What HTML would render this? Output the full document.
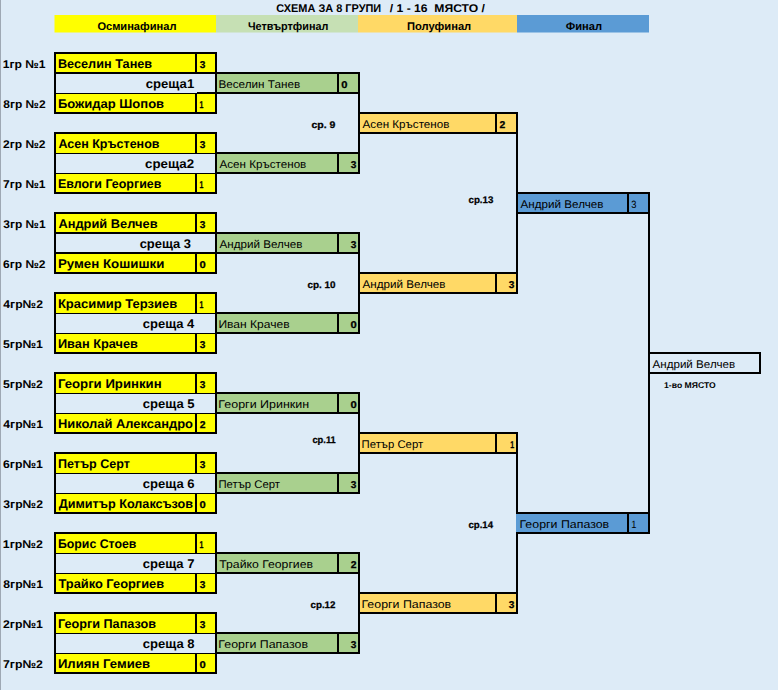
<!DOCTYPE html>
<html><head><meta charset="utf-8"><style>
html,body{margin:0;padding:0;background:#DDEBF7;width:778px;height:690px;overflow:hidden}
svg{display:block}
text{font-family:"Liberation Sans",sans-serif;fill:#000;text-rendering:geometricPrecision}
</style></head><body>
<svg width="778" height="690" viewBox="0 0 778 690">
<defs><clipPath id="clipB"><rect x="56" y="0" width="139" height="690"/></clipPath></defs>
<rect x="0" y="0" width="778" height="690" fill="#DDEBF7"/>
<rect x="0" y="0" width="1" height="690" fill="#9EA8B4"/>
<rect x="54.5" y="15" width="161.5" height="17.5" fill="#FFFF00"/>
<rect x="216" y="15" width="142" height="17.5" fill="#C6E0B4"/>
<rect x="358" y="15" width="159" height="17.5" fill="#FFD966"/>
<rect x="517" y="15" width="132" height="17.5" fill="#5B9BD5"/>
<rect x="54" y="52" width="163" height="62" fill="#000000"/>
<rect x="56" y="54" width="139" height="18" fill="#FFFF00"/>
<rect x="197" y="54" width="18" height="18" fill="#FFFF00"/>
<rect x="56" y="74" width="159" height="19" fill="#DDEBF7"/>
<rect x="197" y="74" width="18" height="18" fill="#DDEBF7"/>
<rect x="197" y="92" width="18" height="1" fill="#000000"/>
<rect x="56" y="94" width="139" height="18" fill="#FFFF00"/>
<rect x="197" y="94" width="18" height="18" fill="#FFFF00"/>
<rect x="215" y="72" width="145" height="22" fill="#000000"/>
<rect x="217" y="74" width="120" height="18" fill="#A9D08E"/>
<rect x="339" y="74" width="19" height="18" fill="#A9D08E"/>
<rect x="54" y="132" width="163" height="62" fill="#000000"/>
<rect x="56" y="134" width="139" height="19" fill="#FFFF00"/>
<rect x="197" y="134" width="18" height="19" fill="#FFFF00"/>
<rect x="56" y="154" width="159" height="19" fill="#DDEBF7"/>
<rect x="197" y="154" width="18" height="18" fill="#DDEBF7"/>
<rect x="56" y="174" width="139" height="18" fill="#FFFF00"/>
<rect x="197" y="174" width="18" height="18" fill="#FFFF00"/>
<rect x="215" y="152" width="145" height="22" fill="#000000"/>
<rect x="217" y="154" width="120" height="18" fill="#A9D08E"/>
<rect x="339" y="154" width="19" height="18" fill="#A9D08E"/>
<rect x="54" y="212" width="163" height="62" fill="#000000"/>
<rect x="56" y="214" width="139" height="18" fill="#FFFF00"/>
<rect x="197" y="214" width="18" height="18" fill="#FFFF00"/>
<rect x="56" y="234" width="159" height="18" fill="#DDEBF7"/>
<rect x="197" y="234" width="18" height="18" fill="#DDEBF7"/>
<rect x="56" y="254" width="139" height="18" fill="#FFFF00"/>
<rect x="197" y="254" width="18" height="18" fill="#FFFF00"/>
<rect x="215" y="232" width="145" height="22" fill="#000000"/>
<rect x="217" y="234" width="120" height="18" fill="#A9D08E"/>
<rect x="339" y="234" width="19" height="18" fill="#A9D08E"/>
<rect x="54" y="292" width="163" height="62" fill="#000000"/>
<rect x="56" y="294" width="139" height="19" fill="#FFFF00"/>
<rect x="197" y="294" width="18" height="19" fill="#FFFF00"/>
<rect x="56" y="314" width="159" height="19" fill="#DDEBF7"/>
<rect x="197" y="314" width="18" height="18" fill="#DDEBF7"/>
<rect x="56" y="334" width="139" height="18" fill="#FFFF00"/>
<rect x="197" y="334" width="18" height="18" fill="#FFFF00"/>
<rect x="215" y="312" width="145" height="22" fill="#000000"/>
<rect x="217" y="314" width="120" height="18" fill="#A9D08E"/>
<rect x="339" y="314" width="19" height="18" fill="#A9D08E"/>
<rect x="54" y="372" width="163" height="62" fill="#000000"/>
<rect x="56" y="374" width="139" height="19" fill="#FFFF00"/>
<rect x="197" y="374" width="18" height="19" fill="#FFFF00"/>
<rect x="56" y="394" width="159" height="19" fill="#DDEBF7"/>
<rect x="197" y="394" width="18" height="18" fill="#DDEBF7"/>
<rect x="56" y="414" width="139" height="18" fill="#FFFF00"/>
<rect x="197" y="414" width="18" height="18" fill="#FFFF00"/>
<rect x="215" y="392" width="145" height="22" fill="#000000"/>
<rect x="217" y="394" width="120" height="18" fill="#A9D08E"/>
<rect x="339" y="394" width="19" height="18" fill="#A9D08E"/>
<rect x="54" y="452" width="163" height="62" fill="#000000"/>
<rect x="56" y="454" width="139" height="19" fill="#FFFF00"/>
<rect x="197" y="454" width="18" height="19" fill="#FFFF00"/>
<rect x="56" y="474" width="159" height="19" fill="#DDEBF7"/>
<rect x="197" y="474" width="18" height="18" fill="#DDEBF7"/>
<rect x="56" y="494" width="139" height="18" fill="#FFFF00"/>
<rect x="197" y="494" width="18" height="18" fill="#FFFF00"/>
<rect x="215" y="472" width="145" height="22" fill="#000000"/>
<rect x="217" y="474" width="120" height="18" fill="#A9D08E"/>
<rect x="339" y="474" width="19" height="18" fill="#A9D08E"/>
<rect x="54" y="532" width="163" height="62" fill="#000000"/>
<rect x="56" y="534" width="139" height="19" fill="#FFFF00"/>
<rect x="197" y="534" width="18" height="19" fill="#FFFF00"/>
<rect x="56" y="554" width="159" height="19" fill="#DDEBF7"/>
<rect x="197" y="554" width="18" height="18" fill="#DDEBF7"/>
<rect x="56" y="574" width="139" height="18" fill="#FFFF00"/>
<rect x="197" y="574" width="18" height="18" fill="#FFFF00"/>
<rect x="215" y="552" width="145" height="22" fill="#000000"/>
<rect x="217" y="554" width="120" height="18" fill="#A9D08E"/>
<rect x="339" y="554" width="19" height="18" fill="#A9D08E"/>
<rect x="54" y="612" width="163" height="62" fill="#000000"/>
<rect x="56" y="614" width="139" height="19" fill="#FFFF00"/>
<rect x="197" y="614" width="18" height="19" fill="#FFFF00"/>
<rect x="56" y="634" width="159" height="19" fill="#DDEBF7"/>
<rect x="197" y="634" width="18" height="18" fill="#DDEBF7"/>
<rect x="56" y="654" width="139" height="18" fill="#FFFF00"/>
<rect x="197" y="654" width="18" height="18" fill="#FFFF00"/>
<rect x="215" y="632" width="145" height="22" fill="#000000"/>
<rect x="217" y="634" width="120" height="18" fill="#A9D08E"/>
<rect x="339" y="634" width="19" height="18" fill="#A9D08E"/>
<rect x="358" y="72" width="2" height="102" fill="#000000"/>
<rect x="358" y="112" width="160" height="22" fill="#000000"/>
<rect x="360" y="114" width="135" height="18" fill="#FFD966"/>
<rect x="497" y="114" width="19" height="18" fill="#FFD966"/>
<rect x="358" y="232" width="2" height="102" fill="#000000"/>
<rect x="358" y="272" width="160" height="22" fill="#000000"/>
<rect x="360" y="274" width="135" height="18" fill="#FFD966"/>
<rect x="497" y="274" width="19" height="18" fill="#FFD966"/>
<rect x="358" y="392" width="2" height="102" fill="#000000"/>
<rect x="358" y="432" width="160" height="22" fill="#000000"/>
<rect x="360" y="434" width="135" height="18" fill="#FFD966"/>
<rect x="497" y="434" width="19" height="18" fill="#FFD966"/>
<rect x="358" y="552" width="2" height="102" fill="#000000"/>
<rect x="358" y="592" width="160" height="22" fill="#000000"/>
<rect x="360" y="594" width="135" height="18" fill="#FFD966"/>
<rect x="497" y="594" width="19" height="18" fill="#FFD966"/>
<rect x="516" y="112" width="2" height="182" fill="#000000"/>
<rect x="516" y="192" width="134" height="22" fill="#000000"/>
<rect x="518" y="194" width="109" height="18" fill="#5B9BD5"/>
<rect x="629" y="194" width="19" height="18" fill="#5B9BD5"/>
<rect x="516" y="432" width="2" height="182" fill="#000000"/>
<rect x="516" y="512" width="134" height="22" fill="#000000"/>
<rect x="516" y="514" width="111" height="18" fill="#5B9BD5"/>
<rect x="629" y="514" width="19" height="18" fill="#5B9BD5"/>
<rect x="648" y="192" width="2" height="342" fill="#000000"/>
<rect x="648" y="352" width="113" height="22" fill="#000000"/>
<rect x="650" y="354" width="109" height="18" fill="#DDEBF7"/>
<text x="276.31" y="12" font-size="11.17" font-weight="bold" textLength="104.94" lengthAdjust="spacingAndGlyphs">СХЕМА ЗА 8 ГРУПИ</text>
<text x="389.83" y="12" font-size="11.17" font-weight="bold" textLength="95.08" lengthAdjust="spacingAndGlyphs">/ 1 - 16  МЯСТО /</text>
<text x="97.40" y="30" font-size="11.17" font-weight="bold" textLength="79.03" lengthAdjust="spacingAndGlyphs">Осминафинал</text>
<text x="248.02" y="30" font-size="11.17" font-weight="bold" textLength="80.32" lengthAdjust="spacingAndGlyphs">Четвъртфинал</text>
<text x="406.95" y="30" font-size="11.17" font-weight="bold" textLength="64.25" lengthAdjust="spacingAndGlyphs">Полуфинал</text>
<text x="565.70" y="30" font-size="11.17" font-weight="bold" textLength="36.37" lengthAdjust="spacingAndGlyphs">Финал</text>
<text x="2.79" y="68" font-size="11.17" font-weight="bold" textLength="42.77" lengthAdjust="spacingAndGlyphs">1гр №1</text>
<text x="3.33" y="108" font-size="11.17" font-weight="bold" textLength="42.22" lengthAdjust="spacingAndGlyphs">8гр №2</text>
<text x="57.94" y="68" font-size="12.57" font-weight="bold" textLength="94.21" lengthAdjust="spacingAndGlyphs" clip-path="url(#clipB)">Веселин Танев</text>
<text x="57.92" y="108" font-size="12.57" font-weight="bold" textLength="106.17" lengthAdjust="spacingAndGlyphs" clip-path="url(#clipB)">Божидар Шопов</text>
<text x="199.75" y="68" font-size="9.9" font-weight="bold" stroke="#000" stroke-width="0.25" textLength="5.61" lengthAdjust="spacingAndGlyphs">3</text>
<text x="199.47" y="108" font-size="9.9" font-weight="bold" stroke="#000" stroke-width="0.25" textLength="3.91" lengthAdjust="spacingAndGlyphs">1</text>
<text x="145.78" y="88" font-size="12.57" font-weight="bold" textLength="48.41" lengthAdjust="spacingAndGlyphs">среща1</text>
<text x="218.45" y="88" font-size="11.17" textLength="81.74" lengthAdjust="spacingAndGlyphs">Веселин Танев</text>
<text x="341.33" y="88" font-size="9.9" font-weight="bold" stroke="#000" stroke-width="0.25" textLength="6.23" lengthAdjust="spacingAndGlyphs">0</text>
<text x="3.06" y="148" font-size="11.17" font-weight="bold" textLength="42.49" lengthAdjust="spacingAndGlyphs">2гр №2</text>
<text x="3.06" y="188" font-size="11.17" font-weight="bold" textLength="42.49" lengthAdjust="spacingAndGlyphs">7гр №1</text>
<text x="58.45" y="148" font-size="12.57" font-weight="bold" textLength="101.02" lengthAdjust="spacingAndGlyphs" clip-path="url(#clipB)">Асен Кръстенов</text>
<text x="57.96" y="188" font-size="12.57" font-weight="bold" textLength="103.45" lengthAdjust="spacingAndGlyphs" clip-path="url(#clipB)">Евлоги Георгиев</text>
<text x="199.75" y="148" font-size="9.9" font-weight="bold" stroke="#000" stroke-width="0.25" textLength="5.61" lengthAdjust="spacingAndGlyphs">3</text>
<text x="199.47" y="188" font-size="9.9" font-weight="bold" stroke="#000" stroke-width="0.25" textLength="3.91" lengthAdjust="spacingAndGlyphs">1</text>
<text x="145.07" y="168" font-size="12.57" font-weight="bold" textLength="48.99" lengthAdjust="spacingAndGlyphs">среща2</text>
<text x="219.50" y="168" font-size="11.17" textLength="86.81" lengthAdjust="spacingAndGlyphs">Асен Кръстенов</text>
<text x="350.75" y="168" font-size="9.9" font-weight="bold" stroke="#000" stroke-width="0.25" textLength="5.61" lengthAdjust="spacingAndGlyphs">3</text>
<text x="3.33" y="228" font-size="11.17" font-weight="bold" textLength="42.22" lengthAdjust="spacingAndGlyphs">3гр №1</text>
<text x="3.06" y="268" font-size="11.17" font-weight="bold" textLength="42.49" lengthAdjust="spacingAndGlyphs">6гр №2</text>
<text x="58.44" y="228" font-size="12.57" font-weight="bold" textLength="99.15" lengthAdjust="spacingAndGlyphs" clip-path="url(#clipB)">Андрий Велчев</text>
<text x="57.91" y="268" font-size="12.57" font-weight="bold" textLength="106.47" lengthAdjust="spacingAndGlyphs" clip-path="url(#clipB)">Румен Кошишки</text>
<text x="199.75" y="228" font-size="9.9" font-weight="bold" stroke="#000" stroke-width="0.25" textLength="5.61" lengthAdjust="spacingAndGlyphs">3</text>
<text x="199.43" y="268" font-size="9.9" font-weight="bold" stroke="#000" stroke-width="0.25" textLength="6.23" lengthAdjust="spacingAndGlyphs">0</text>
<text x="139.68" y="248" font-size="12.57" font-weight="bold" textLength="51.40" lengthAdjust="spacingAndGlyphs">среща 3</text>
<text x="219.50" y="248" font-size="11.17" textLength="82.89" lengthAdjust="spacingAndGlyphs">Андрий Велчев</text>
<text x="350.75" y="248" font-size="9.9" font-weight="bold" stroke="#000" stroke-width="0.25" textLength="5.61" lengthAdjust="spacingAndGlyphs">3</text>
<text x="3.33" y="308" font-size="11.17" font-weight="bold" textLength="39.61" lengthAdjust="spacingAndGlyphs">4гр№2</text>
<text x="3.05" y="348" font-size="11.17" font-weight="bold" textLength="39.89" lengthAdjust="spacingAndGlyphs">5гр№1</text>
<text x="57.92" y="308" font-size="12.57" font-weight="bold" textLength="119.33" lengthAdjust="spacingAndGlyphs" clip-path="url(#clipB)">Красимир Терзиев</text>
<text x="57.94" y="348" font-size="12.57" font-weight="bold" textLength="79.89" lengthAdjust="spacingAndGlyphs" clip-path="url(#clipB)">Иван Крачев</text>
<text x="199.47" y="308" font-size="9.9" font-weight="bold" stroke="#000" stroke-width="0.25" textLength="3.91" lengthAdjust="spacingAndGlyphs">1</text>
<text x="199.75" y="348" font-size="9.9" font-weight="bold" stroke="#000" stroke-width="0.25" textLength="5.61" lengthAdjust="spacingAndGlyphs">3</text>
<text x="142.78" y="328" font-size="12.57" font-weight="bold" textLength="51.55" lengthAdjust="spacingAndGlyphs">среща 4</text>
<text x="218.42" y="328" font-size="11.17" textLength="71.22" lengthAdjust="spacingAndGlyphs">Иван Крачев</text>
<text x="350.43" y="328" font-size="9.9" font-weight="bold" stroke="#000" stroke-width="0.25" textLength="6.23" lengthAdjust="spacingAndGlyphs">0</text>
<text x="3.05" y="388" font-size="11.17" font-weight="bold" textLength="39.89" lengthAdjust="spacingAndGlyphs">5гр№2</text>
<text x="3.33" y="428" font-size="11.17" font-weight="bold" textLength="39.61" lengthAdjust="spacingAndGlyphs">4гр№1</text>
<text x="57.91" y="388" font-size="12.57" font-weight="bold" textLength="103.70" lengthAdjust="spacingAndGlyphs" clip-path="url(#clipB)">Георги Иринкин</text>
<text x="57.93" y="428" font-size="12.57" font-weight="bold" textLength="135.08" lengthAdjust="spacingAndGlyphs" clip-path="url(#clipB)">Николай Александро</text>
<text x="199.75" y="388" font-size="9.9" font-weight="bold" stroke="#000" stroke-width="0.25" textLength="5.61" lengthAdjust="spacingAndGlyphs">3</text>
<text x="199.74" y="428" font-size="9.9" font-weight="bold" stroke="#000" stroke-width="0.25" textLength="5.79" lengthAdjust="spacingAndGlyphs">2</text>
<text x="142.78" y="408" font-size="12.57" font-weight="bold" textLength="51.81" lengthAdjust="spacingAndGlyphs">среща 5</text>
<text x="218.38" y="408" font-size="11.17" textLength="90.80" lengthAdjust="spacingAndGlyphs">Георги Иринкин</text>
<text x="350.43" y="408" font-size="9.9" font-weight="bold" stroke="#000" stroke-width="0.25" textLength="6.23" lengthAdjust="spacingAndGlyphs">0</text>
<text x="3.05" y="468" font-size="11.17" font-weight="bold" textLength="39.89" lengthAdjust="spacingAndGlyphs">6гр№1</text>
<text x="3.33" y="508" font-size="11.17" font-weight="bold" textLength="39.61" lengthAdjust="spacingAndGlyphs">3гр№2</text>
<text x="57.95" y="468" font-size="12.57" font-weight="bold" textLength="71.84" lengthAdjust="spacingAndGlyphs" clip-path="url(#clipB)">Петър Серт</text>
<text x="58.70" y="508" font-size="12.57" font-weight="bold" textLength="134.40" lengthAdjust="spacingAndGlyphs" clip-path="url(#clipB)">Димитър Колаксъзов</text>
<text x="199.75" y="468" font-size="9.9" font-weight="bold" stroke="#000" stroke-width="0.25" textLength="5.61" lengthAdjust="spacingAndGlyphs">3</text>
<text x="199.43" y="508" font-size="9.9" font-weight="bold" stroke="#000" stroke-width="0.25" textLength="6.23" lengthAdjust="spacingAndGlyphs">0</text>
<text x="142.78" y="488" font-size="12.57" font-weight="bold" textLength="51.81" lengthAdjust="spacingAndGlyphs">среща 6</text>
<text x="218.48" y="488" font-size="11.17" textLength="61.60" lengthAdjust="spacingAndGlyphs">Петър Серт</text>
<text x="350.75" y="488" font-size="9.9" font-weight="bold" stroke="#000" stroke-width="0.25" textLength="5.61" lengthAdjust="spacingAndGlyphs">3</text>
<text x="2.77" y="548" font-size="11.17" font-weight="bold" textLength="40.18" lengthAdjust="spacingAndGlyphs">1гр№2</text>
<text x="3.33" y="588" font-size="11.17" font-weight="bold" textLength="39.61" lengthAdjust="spacingAndGlyphs">8гр№1</text>
<text x="57.96" y="548" font-size="12.57" font-weight="bold" textLength="78.46" lengthAdjust="spacingAndGlyphs" clip-path="url(#clipB)">Борис Стоев</text>
<text x="58.44" y="588" font-size="12.57" font-weight="bold" textLength="105.68" lengthAdjust="spacingAndGlyphs" clip-path="url(#clipB)">Трайко Георгиев</text>
<text x="199.47" y="548" font-size="9.9" font-weight="bold" stroke="#000" stroke-width="0.25" textLength="3.91" lengthAdjust="spacingAndGlyphs">1</text>
<text x="199.75" y="588" font-size="9.9" font-weight="bold" stroke="#000" stroke-width="0.25" textLength="5.61" lengthAdjust="spacingAndGlyphs">3</text>
<text x="142.78" y="568" font-size="12.57" font-weight="bold" textLength="51.67" lengthAdjust="spacingAndGlyphs">среща 7</text>
<text x="219.23" y="568" font-size="11.17" textLength="93.81" lengthAdjust="spacingAndGlyphs">Трайко Георгиев</text>
<text x="350.84" y="568" font-size="9.9" font-weight="bold" stroke="#000" stroke-width="0.25" textLength="5.79" lengthAdjust="spacingAndGlyphs">2</text>
<text x="3.05" y="628" font-size="11.17" font-weight="bold" textLength="39.89" lengthAdjust="spacingAndGlyphs">2гр№1</text>
<text x="3.05" y="668" font-size="11.17" font-weight="bold" textLength="39.89" lengthAdjust="spacingAndGlyphs">7гр№2</text>
<text x="57.94" y="628" font-size="12.57" font-weight="bold" textLength="98.05" lengthAdjust="spacingAndGlyphs" clip-path="url(#clipB)">Георги Папазов</text>
<text x="57.92" y="668" font-size="12.57" font-weight="bold" textLength="92.23" lengthAdjust="spacingAndGlyphs" clip-path="url(#clipB)">Илиян Гемиев</text>
<text x="199.75" y="628" font-size="9.9" font-weight="bold" stroke="#000" stroke-width="0.25" textLength="5.61" lengthAdjust="spacingAndGlyphs">3</text>
<text x="199.43" y="668" font-size="9.9" font-weight="bold" stroke="#000" stroke-width="0.25" textLength="6.23" lengthAdjust="spacingAndGlyphs">0</text>
<text x="142.78" y="648" font-size="12.57" font-weight="bold" textLength="51.81" lengthAdjust="spacingAndGlyphs">среща 8</text>
<text x="218.39" y="648" font-size="11.17" textLength="89.70" lengthAdjust="spacingAndGlyphs">Георги Папазов</text>
<text x="350.75" y="648" font-size="9.9" font-weight="bold" stroke="#000" stroke-width="0.25" textLength="5.61" lengthAdjust="spacingAndGlyphs">3</text>
<text x="362.60" y="128" font-size="11.17" textLength="86.81" lengthAdjust="spacingAndGlyphs">Асен Кръстенов</text>
<text x="499.64" y="128" font-size="9.9" font-weight="bold" stroke="#000" stroke-width="0.25" textLength="5.79" lengthAdjust="spacingAndGlyphs">2</text>
<text x="311.45" y="128" font-size="9.6" font-weight="bold" stroke="#000" stroke-width="0.25" textLength="23.96" lengthAdjust="spacingAndGlyphs">ср. 9</text>
<text x="362.60" y="288" font-size="11.17" textLength="82.89" lengthAdjust="spacingAndGlyphs">Андрий Велчев</text>
<text x="508.75" y="288" font-size="9.9" font-weight="bold" stroke="#000" stroke-width="0.25" textLength="5.61" lengthAdjust="spacingAndGlyphs">3</text>
<text x="307.48" y="288" font-size="9.6" font-weight="bold" stroke="#000" stroke-width="0.25" textLength="28.08" lengthAdjust="spacingAndGlyphs">ср. 10</text>
<text x="361.58" y="448" font-size="11.17" textLength="61.60" lengthAdjust="spacingAndGlyphs">Петър Серт</text>
<text x="510.37" y="448" font-size="9.9" font-weight="bold" stroke="#000" stroke-width="0.25" textLength="3.91" lengthAdjust="spacingAndGlyphs">1</text>
<text x="312.41" y="443" font-size="9.6" font-weight="bold" stroke="#000" stroke-width="0.25" textLength="23.34" lengthAdjust="spacingAndGlyphs">ср.11</text>
<text x="361.49" y="608" font-size="11.17" textLength="89.70" lengthAdjust="spacingAndGlyphs">Георги Папазов</text>
<text x="508.75" y="608" font-size="9.9" font-weight="bold" stroke="#000" stroke-width="0.25" textLength="5.61" lengthAdjust="spacingAndGlyphs">3</text>
<text x="310.49" y="608" font-size="9.6" font-weight="bold" stroke="#000" stroke-width="0.25" textLength="25.01" lengthAdjust="spacingAndGlyphs">ср.12</text>
<text x="520.60" y="208" font-size="11.17" textLength="82.89" lengthAdjust="spacingAndGlyphs">Андрий Велчев</text>
<text x="631.36" y="208" font-size="10.6" textLength="5.20" lengthAdjust="spacingAndGlyphs">3</text>
<text x="468.49" y="203" font-size="9.6" font-weight="bold" stroke="#000" stroke-width="0.25" textLength="24.91" lengthAdjust="spacingAndGlyphs">ср.13</text>
<text x="519.49" y="528" font-size="11.17" textLength="89.70" lengthAdjust="spacingAndGlyphs">Георги Папазов</text>
<text x="631.14" y="528" font-size="10.6" textLength="5.22" lengthAdjust="spacingAndGlyphs">1</text>
<text x="468.50" y="528" font-size="9.6" font-weight="bold" stroke="#000" stroke-width="0.25" textLength="24.55" lengthAdjust="spacingAndGlyphs">ср.14</text>
<text x="652.50" y="368" font-size="11.17" textLength="82.59" lengthAdjust="spacingAndGlyphs">Андрий Велчев</text>
<text x="664.09" y="388" font-size="8.4" font-weight="bold" textLength="51.61" lengthAdjust="spacingAndGlyphs">1-во МЯСТО</text>
</svg>
</body></html>
